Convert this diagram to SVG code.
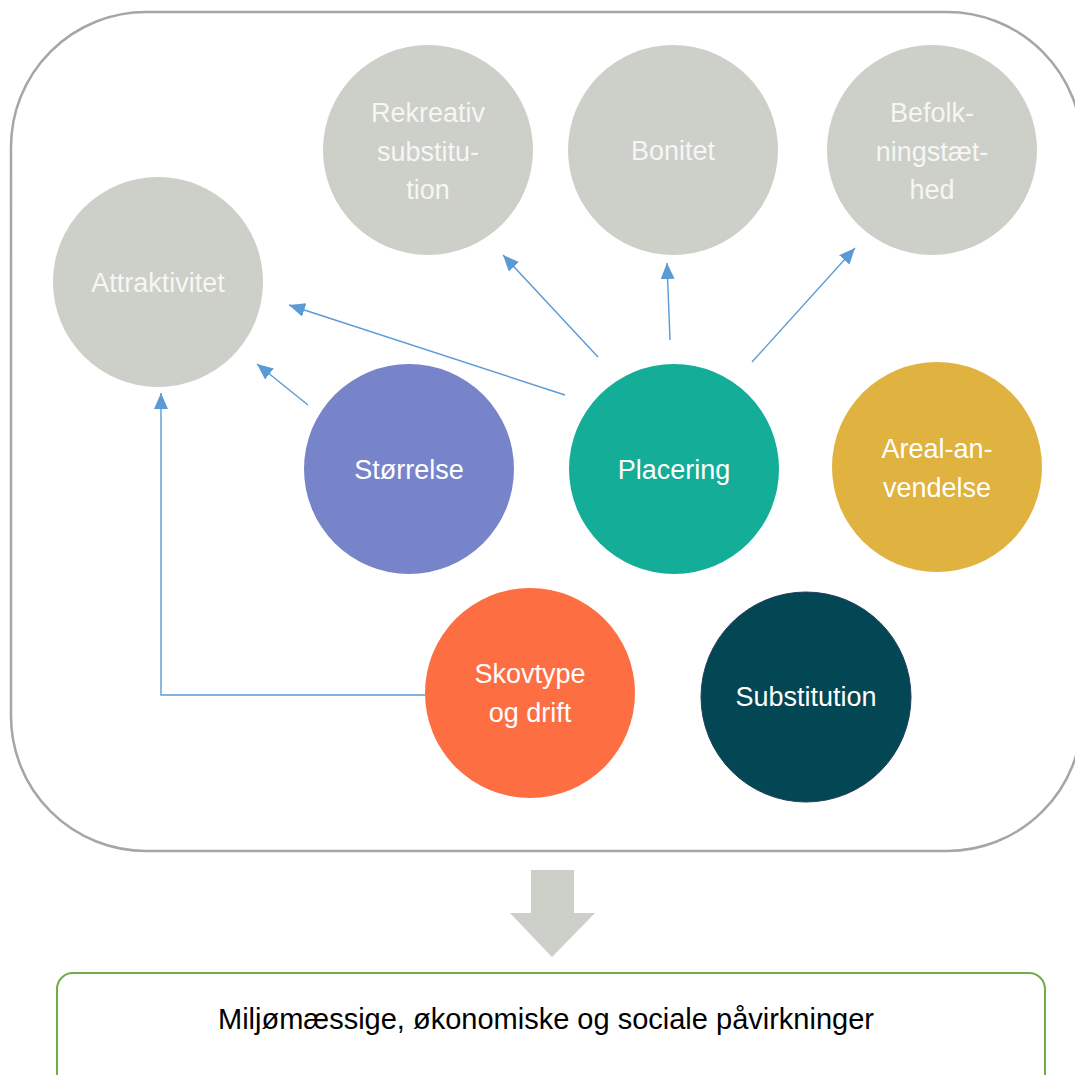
<svg xmlns="http://www.w3.org/2000/svg" width="1075" height="1075" viewBox="0 0 1075 1075">
<defs>
<style>
.lbl{font-family:"Liberation Sans",Arial,sans-serif;font-size:27px;text-anchor:middle;fill:#FFFFFF}
.gl{fill:#F6F6F4}
.gray{fill:#CDCFC9}
.conn{fill:none;stroke:#5B9BD5;stroke-width:1.4;marker-end:url(#ah)}
</style>
<marker id="ah" markerUnits="userSpaceOnUse" markerWidth="18" markerHeight="16" refX="16" refY="7" orient="auto">
<path d="M0,0 L16,7 L0,14 Z" fill="#5B9BD5"/>
</marker>
</defs>
<rect width="1075" height="1075" fill="#FFFFFF"/>
<rect id="frame" x="11" y="12" width="1071" height="839" rx="135" ry="135" fill="#FFFFFF" stroke="#A6A6A6" stroke-width="2.5"/>

<g id="connectors">
<line class="conn" x1="598" y1="357" x2="503" y2="255"/>
<line class="conn" x1="565" y1="395" x2="289" y2="305"/>
<line class="conn" x1="308" y1="405" x2="257" y2="364"/>
<line class="conn" x1="670" y1="340" x2="667" y2="263"/>
<line class="conn" x1="752" y1="362" x2="855" y2="248"/>
<polyline class="conn" points="425,695 161,695 161,393"/>
</g>

<g id="attraktivitet"><circle class="gray" cx="158" cy="282" r="105"/><text class="lbl gl" x="158" y="292">Attraktivitet</text></g>
<g id="rekreativ"><circle class="gray" cx="428" cy="150" r="105"/><text class="lbl gl" x="428" y="122">Rekreativ</text><text class="lbl gl" x="428" y="161">substitu-</text><text class="lbl gl" x="428" y="199">tion</text></g>
<g id="bonitet"><circle class="gray" cx="673" cy="150" r="105"/><text class="lbl gl" x="673" y="160">Bonitet</text></g>
<g id="befolkning"><circle class="gray" cx="932" cy="150" r="105"/><text class="lbl gl" x="932" y="122">Befolk-</text><text class="lbl gl" x="932" y="161">ningstæt-</text><text class="lbl gl" x="932" y="199">hed</text></g>
<g id="stoerrelse"><circle cx="409" cy="469" r="105" fill="#7884CA"/><text class="lbl" x="409" y="479">Størrelse</text></g>
<g id="placering"><circle cx="674" cy="469" r="105" fill="#13AD98"/><text class="lbl" x="674" y="479">Placering</text></g>
<g id="arealanvendelse"><circle cx="937" cy="467" r="105" fill="#E0B23F"/><text class="lbl" x="937" y="458">Areal-an-</text><text class="lbl" x="937" y="497">vendelse</text></g>
<g id="skovtype"><circle cx="530" cy="693" r="105" fill="#FD6E43"/><text class="lbl" x="530" y="683">Skovtype</text><text class="lbl" x="530" y="722">og drift</text></g>
<g id="substitution"><circle cx="806" cy="697" r="105" fill="#034654" stroke="#26405E" stroke-width="1"/><text class="lbl" x="806" y="706">Substitution</text></g>

<g id="bigarrow"><polygon points="531,870 574,870 574,913 595,913 552,957 510,913 531,913" class="gray"/></g>

<g id="impacts"><rect x="57" y="973" width="988" height="120" rx="16" ry="16" fill="#FFFFFF" stroke="#70AD47" stroke-width="2"/>
<text x="546" y="1029" font-family="'Liberation Sans',Arial,sans-serif" font-size="29" text-anchor="middle" fill="#000000">Miljømæssige, økonomiske og sociale påvirkninger</text></g>
</svg>
